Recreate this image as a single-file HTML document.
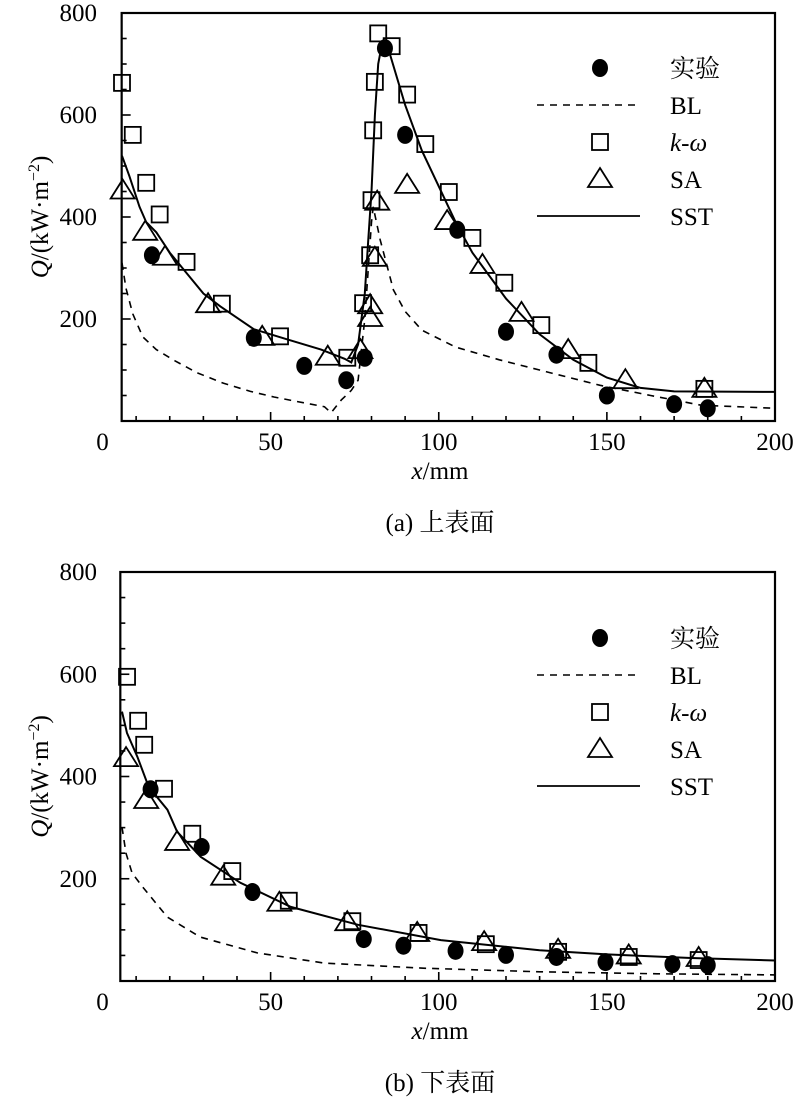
<!DOCTYPE html>
<html><head><meta charset="utf-8"><style>
body{margin:0;background:#fff}
svg text{font-family:"Liberation Serif","Noto Serif CJK SC",serif;fill:#000}
</style></head><body>
<svg id="c" width="800" height="1109" xmlns="http://www.w3.org/2000/svg"></svg>
<script>
const xTicks=[0,50,100,150,200];
const yTicks=[200,400,600,800];
// Panel a (upper surface)
const aExpX=[14.7,45,60,72.5,78,84,90,105.5,120,135,150,170,180];
const aExpY=[325,163,108,80,124,731,561,375,175,130,50,33,25];
const aKwX=[5.8,9,13,17,25,35.5,52.8,72.8,77.5,79.6,80,80.5,81,82,86,90.6,96,103,110,119.5,130.5,144.5,179];
const aKwY=[663,561,467,405,312,230,166,124,231,325,433,570,665,760,735,640,543,449,359,271,188,114,63];
const aSaX=[6,12.7,18.6,31.4,47.5,67,76.7,79.6,79.6,81,81.7,90.6,102.5,113,124.6,138.5,155.5,179];
const aSaY=[452,371,322,229,165,126,139,227,202,320,430,463,392,306,212,139,80,63];
const aSstX=[5.8,8,11,13,16,20,25,30,35,45,55,65,72,74,76,78,79,80,81,82,83,85,90,95,100,105,110,120,130,140,150,160,170,200];
const aSstY=[520,480,420,390,370,330,290,250,225,180,160,140,122,115,150,250,350,450,600,700,735,730,620,530,460,390,330,240,170,120,85,65,58,57];
const aBlX=[5.8,7,9,12,16,21,28,36,44,51,58,66,68,71,74,76,78,80,80.5,82.6,86.5,90,95,105,118,133,148,163,178,200];
const aBlY=[310,260,210,165,140,120,95,74,58,47,38,28,16,41,60,80,200,390,420,355,257,215,178,145,120,95,70,50,31,25];
// Panel b (lower surface)
const bExpX=[14.3,29.5,44.6,77.7,89.5,105,120,135,149.6,169.5,180];
const bExpY=[375,262,174,82,69,59,51,47,37,33,31];
const bKwX=[7.3,10.6,12.4,18.3,26.7,38.6,55.4,74.3,94,114,135.5,156.5,177.3];
const bKwY=[595,509,462,376,288,215,157,117,94,72,57,47,41];
const bSaX=[7,13,22.2,35.9,52.6,72.8,93.6,113.5,135.5,156.5,177.3];
const bSaY=[436,354,272,204,153,115,94,76,61,50,45];
const bSstX=[5.8,7.3,10.4,13.7,19.3,22.2,29.2,41,56,76,100.6,130,150,175,200];
const bSstY=[527,485,438,380,335,292,243,192,145,110,80,60,52,45,40];
const bBlX=[5.8,7,8.8,12.2,19.3,29,46,66,95.4,130,165,200];
const bBlY=[301,250,211,182,125,86,55,35,25,18,14,12];

const NS="http://www.w3.org/2000/svg";
const svg=document.getElementById('c');
function mk(tag,attrs,parent){const e=document.createElementNS(NS,tag);for(const k in attrs)e.setAttribute(k,attrs[k]);(parent||svg).appendChild(e);return e;}

function panel(id,top,bottom,xmin,D,caption,legY){
  const g=mk('g',{});
  
  
  const L=102.5,R=775;
  const sx=v=>L+(R-L)*v/200;
  const sy=v=>bottom-(bottom-top)*v/800;
  const left=sx(xmin);
  const frame=mk('rect',{x:left,y:top,width:R-left,height:bottom-top,fill:'none',stroke:'#000','stroke-width':2.2},g);
  
  
  for(let v=10;v<=200;v+=10){if(sx(v)<=left+1)continue;const big=v%50==0;
    const t=mk('line',{x1:sx(v),x2:sx(v),y1:bottom,y2:bottom-(big?9:5),stroke:'#000','stroke-width':1.6},g);
    }
  for(let v=50;v<800;v+=50){const big=v%200==0;
    const t=mk('line',{x1:left,x2:left+(big?9:5),y1:sy(v),y2:sy(v),stroke:'#000','stroke-width':1.6},g);
    }
  xTicks.forEach(v=>{const t=mk('text',{x:sx(v),y:bottom+29,'text-anchor':'middle','font-size':25},g);t.textContent=v;
    });
  yTicks.forEach(v=>{const t=mk('text',{x:97,y:sy(v)+8,'text-anchor':'end','font-size':25},g);t.textContent=v;
    });
  const xl=mk('text',{x:440,y:bottom+58,'text-anchor':'middle','font-size':25},g);
  xl.innerHTML='<tspan font-style="italic">x</tspan>/mm';
  
  const yl=mk('text',{x:0,y:0,'text-anchor':'middle','font-size':25,transform:`translate(48,${(top+bottom)/2}) rotate(-90)`},g);
  yl.innerHTML='<tspan font-style="italic">Q</tspan>/(kW·m<tspan dy="-9" font-size="16">−2</tspan><tspan dy="9">)</tspan>';
  
  const cap=mk('text',{x:440,y:bottom+110,'text-anchor':'middle','font-size':25},g);cap.textContent=caption;
  
  const path=(xs,ys)=>xs.map((x,i)=>(i?'L':'M')+sx(x).toFixed(1)+','+sy(ys[i]).toFixed(1)).join('');
  const bl=mk('path',{d:path(D.blX,D.blY),fill:'none',stroke:'#000','stroke-width':1.6,'stroke-dasharray':'7,6'},g);
  
  const sst=mk('path',{d:path(D.sstX,D.sstY),fill:'none',stroke:'#000','stroke-width':2},g);
  
  function sq(cx,cy){return mk('rect',{x:cx-8,y:cy-8,width:16,height:16,fill:'none',stroke:'#000','stroke-width':1.8},g);}
  function tri(cx,cy){return mk('path',{d:`M${cx},${cy-11}L${cx+12},${cy+8}L${cx-12},${cy+8}Z`,fill:'none',stroke:'#000','stroke-width':1.8},g);}
  function dot(cx,cy){return mk('ellipse',{cx:cx,cy:cy,rx:8,ry:9,fill:'#000'},g);}
  D.kwX.forEach((x,i)=>{const e=sq(sx(x),sy(D.kwY[i]));});
  D.saX.forEach((x,i)=>{const e=tri(sx(x),sy(D.saY[i]));});
  D.expX.forEach((x,i)=>{const e=dot(sx(x),sy(D.expY[i]));});
  // legend
  const lg=[['实验','dot'],['BL','dash'],['k-ω','sq'],['SA','tri'],['SST','line']];
  lg.forEach((it,i)=>{const y=legY+i*37;let m;
    if(it[1]=='dot')m=dot(600,y);else if(it[1]=='sq')m=sq(600,y);else if(it[1]=='tri')m=tri(600,y);
    else m=mk('line',{x1:537,x2:640,y1:y,y2:y,stroke:'#000','stroke-width':it[1]=='line'?1.8:1.6,'stroke-dasharray':it[1]=='dash'?'7,6':'none'},g);
    
    const t=mk('text',{x:670,y:y+9,'font-size':25},g);
    if(it[0]=='k-ω')t.innerHTML='<tspan font-style="italic">k</tspan>-<tspan font-style="italic">ω</tspan>';else t.textContent=it[0];
    });
}
panel('panel-upper',13,421,5.7,{expX:aExpX,expY:aExpY,kwX:aKwX,kwY:aKwY,saX:aSaX,saY:aSaY,sstX:aSstX,sstY:aSstY,blX:aBlX,blY:aBlY},'(a) 上表面',68);
panel('panel-lower',572,981,5.3,{expX:bExpX,expY:bExpY,kwX:bKwX,kwY:bKwY,saX:bSaX,saY:bSaY,sstX:bSstX,sstY:bSstY,blX:bBlX,blY:bBlY},'(b) 下表面',638);
</script>
</body></html>
